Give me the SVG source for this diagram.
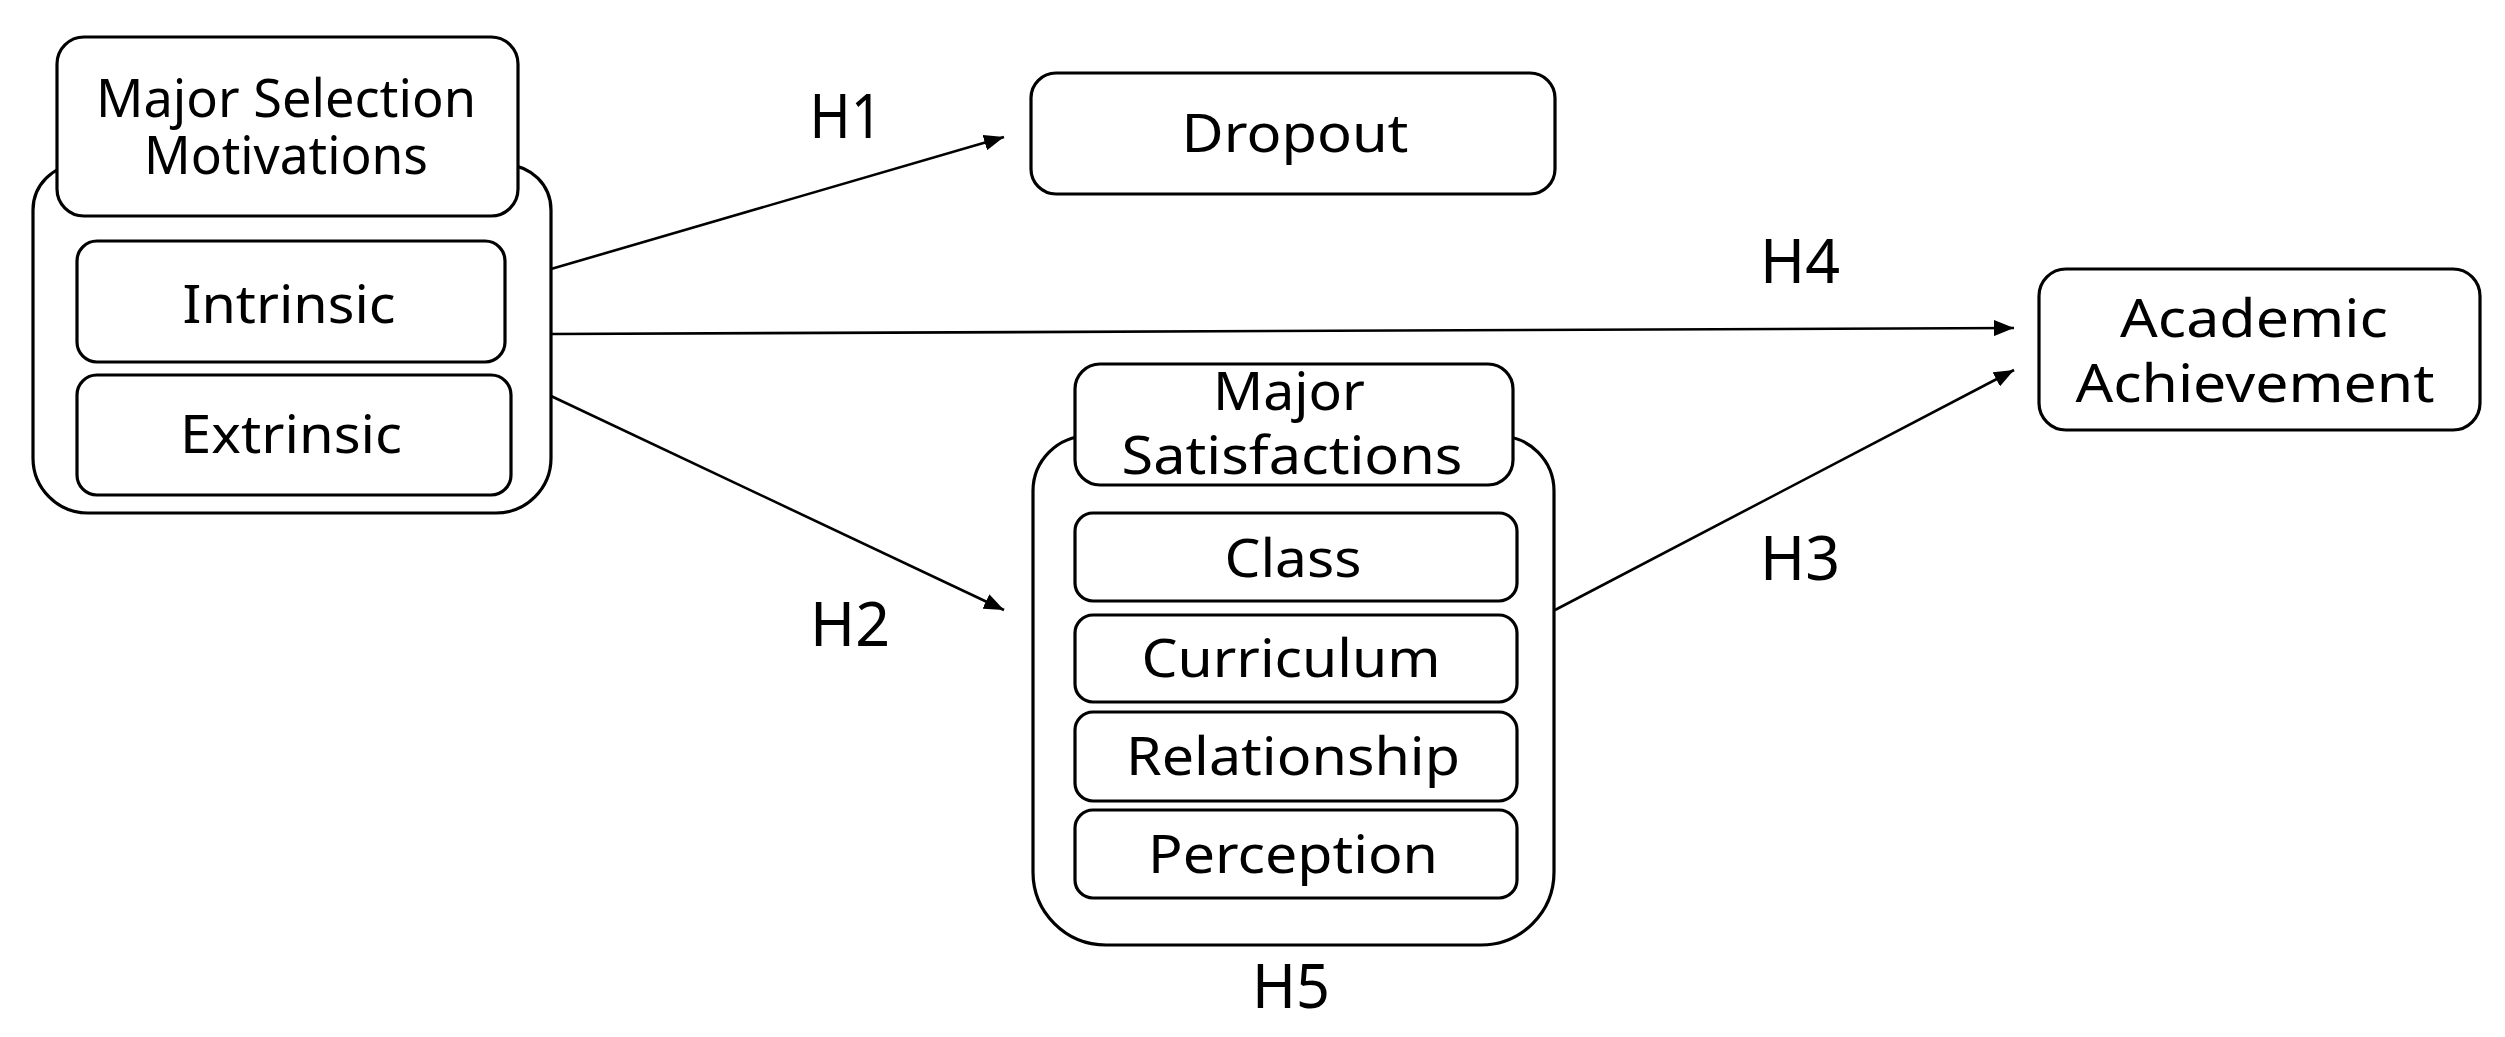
<svg xmlns="http://www.w3.org/2000/svg" width="2505" height="1037" viewBox="0 0 2505 1037">
<style>
.box{fill:#fff;stroke:#000;stroke-width:3.2}
.t{font-family:"Noto Sans","Open Sans","Liberation Sans",sans-serif;font-size:53px;fill:#000;text-anchor:middle}
.h{font-family:"Noto Sans","Open Sans","Liberation Sans",sans-serif;font-size:62px;fill:#000;text-anchor:middle}
.c{fill:none;stroke:#000;stroke-width:2.6}
</style>
<defs>
<marker id="arr" markerUnits="userSpaceOnUse" markerWidth="22" markerHeight="16" refX="20" refY="8" orient="auto">
<path d="M0,0 L20,8 L0,16 z" fill="#000"/>
</marker>
</defs>
<rect width="2505" height="1037" fill="#fff"/>

<g id="connectors">
<line class="c" x1="551" y1="269" x2="1004" y2="137" marker-end="url(#arr)"/>
<line class="c" x1="551" y1="334" x2="2014" y2="328" marker-end="url(#arr)"/>
<line class="c" x1="551" y1="396" x2="1004" y2="610" marker-end="url(#arr)"/>
<line class="c" x1="1555" y1="610" x2="2014" y2="370" marker-end="url(#arr)"/>
</g>

<g id="labels">
<text class="h" x="846" y="138" textLength="73" lengthAdjust="spacingAndGlyphs">H1</text>
<text class="h" x="850" y="646" textLength="80" lengthAdjust="spacingAndGlyphs">H2</text>
<text class="h" x="1800" y="580" textLength="80" lengthAdjust="spacingAndGlyphs">H3</text>
<text class="h" x="1800" y="283" textLength="80" lengthAdjust="spacingAndGlyphs">H4</text>
<text class="h" x="1291" y="1008" textLength="78" lengthAdjust="spacingAndGlyphs">H5</text>
</g>

<g id="motivations">
<path class="box" d="M33,210 A45,45 0 0 1 78,165 L506,165 A45,45 0 0 1 551,210 L551,458 A55,55 0 0 1 496,513 L88,513 A55,55 0 0 1 33,458 Z"/>
<rect class="box" x="57" y="37" width="461" height="179" rx="27"/>
<text class="t" x="286" y="117" textLength="380" lengthAdjust="spacingAndGlyphs">Major Selection</text>
<text class="t" x="286" y="174" textLength="284" lengthAdjust="spacingAndGlyphs">Motivations</text>
<g id="intrinsic">
<rect class="box" x="77" y="241" width="428" height="121" rx="20"/>
<text class="t" x="289" y="323" textLength="213" lengthAdjust="spacingAndGlyphs">Intrinsic</text>
</g>
<g id="extrinsic">
<rect class="box" x="77" y="375" width="434" height="120" rx="20"/>
<text class="t" x="291" y="453" textLength="222" lengthAdjust="spacingAndGlyphs">Extrinsic</text>
</g>
</g>

<g id="dropout">
<rect class="box" x="1031" y="73" width="524" height="121" rx="25"/>
<text class="t" x="1295" y="152" textLength="227" lengthAdjust="spacingAndGlyphs">Dropout</text>
</g>

<g id="satisfactions">
<path class="box" d="M1033,491 A55,55 0 0 1 1088,436 L1499,436 A55,55 0 0 1 1554,491 L1554,872 A73,73 0 0 1 1481,945 L1106,945 A73,73 0 0 1 1033,872 Z"/>
<rect class="box" x="1075" y="364" width="438" height="121" rx="25"/>
<text class="t" x="1289" y="410" textLength="152" lengthAdjust="spacingAndGlyphs">Major</text>
<text class="t" x="1292" y="474" textLength="341" lengthAdjust="spacingAndGlyphs">Satisfactions</text>
<g id="class">
<rect class="box" x="1075" y="513" width="442" height="88" rx="18"/>
<text class="t" x="1293" y="577" textLength="137" lengthAdjust="spacingAndGlyphs">Class</text>
</g>
<g id="curriculum">
<rect class="box" x="1075" y="615" width="442" height="87" rx="18"/>
<text class="t" x="1291" y="677" textLength="299" lengthAdjust="spacingAndGlyphs">Curriculum</text>
</g>
<g id="relationship">
<rect class="box" x="1075" y="712" width="442" height="89" rx="18"/>
<text class="t" x="1293" y="775" textLength="334" lengthAdjust="spacingAndGlyphs">Relationship</text>
</g>
<g id="perception">
<rect class="box" x="1075" y="810" width="442" height="88" rx="18"/>
<text class="t" x="1293" y="873" textLength="290" lengthAdjust="spacingAndGlyphs">Perception</text>
</g>
</g>

<g id="achievement">
<rect class="box" x="2039" y="269" width="441" height="161" rx="27"/>
<text class="t" x="2254" y="337" textLength="268" lengthAdjust="spacingAndGlyphs">Academic</text>
<text class="t" x="2255" y="402" textLength="359" lengthAdjust="spacingAndGlyphs">Achievement</text>
</g>
</svg>
